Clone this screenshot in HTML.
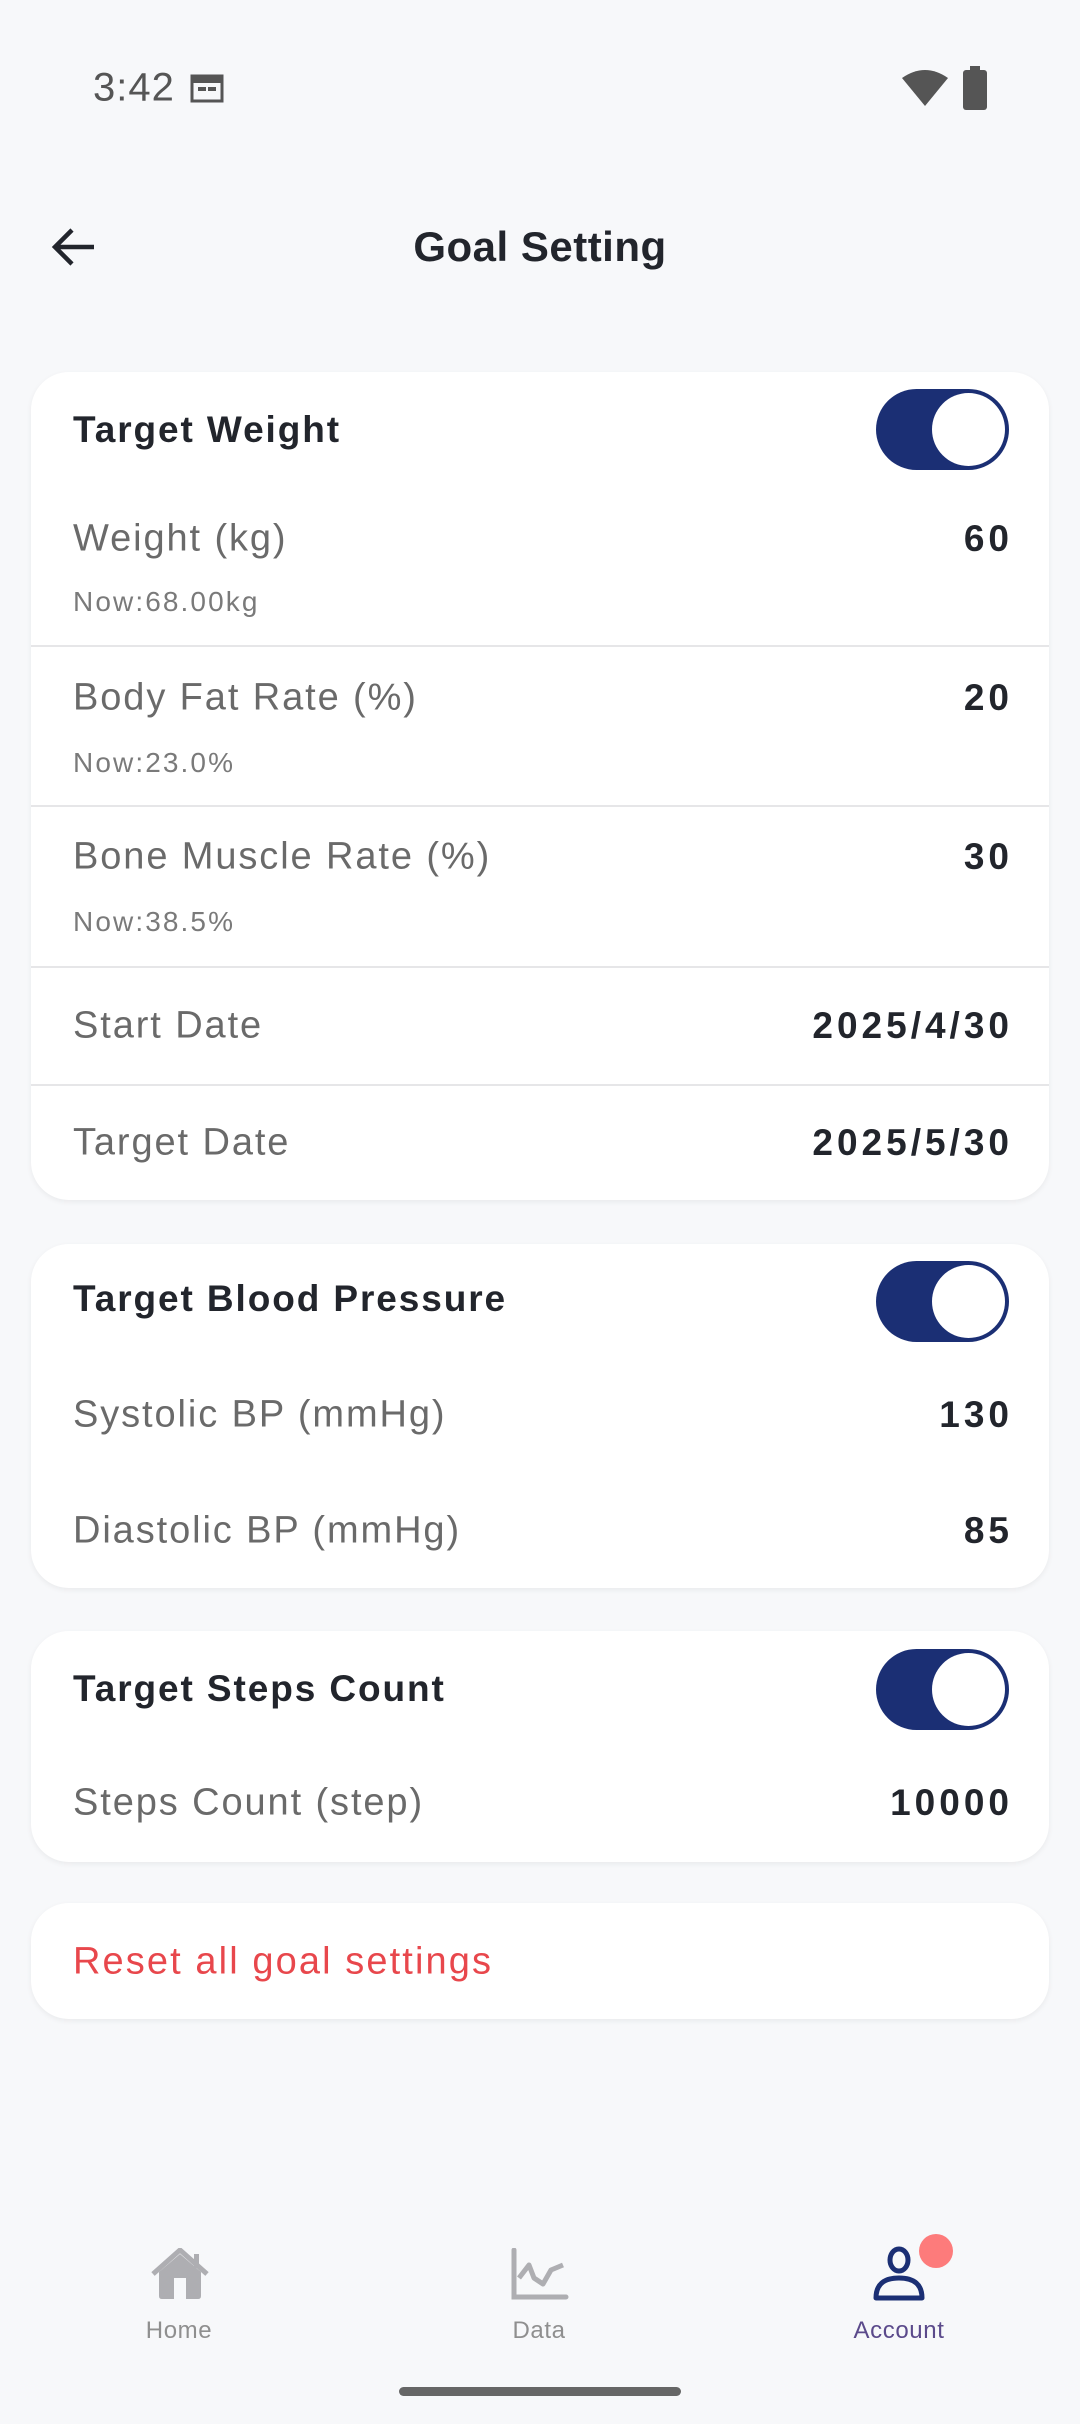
<!DOCTYPE html>
<html><head><meta charset="utf-8"><style>
*{margin:0;padding:0;box-sizing:border-box}
body{width:1080px;height:2424px;background:#f7f8fa;font-family:"Liberation Sans",sans-serif;position:relative;overflow:hidden}
.a{position:absolute}
.card{position:absolute;left:31px;width:1018px;background:#fff;border-radius:38px;box-shadow:0 2px 6px rgba(0,0,0,0.06)}
.t{position:absolute;left:73px;transform:translateY(-50%);white-space:nowrap}
.h{font-weight:bold;font-size:37px;color:#22252c;letter-spacing:1.9px}
.l{font-size:38px;color:#6a6a6a;letter-spacing:1.9px}
.n{font-size:28px;color:#7a7a7a;letter-spacing:2.1px}
.v{position:absolute;right:71px;transform:translateY(-50%);font-weight:bold;font-size:37px;color:#22252c;letter-spacing:4px;margin-right:-4px}
.div{position:absolute;left:31px;width:1018px;height:2px;background:#e6e6e8}
.tg{position:absolute;left:876px;width:133px;height:81px;border-radius:41px;background:#1b2f74}
.tg::after{content:"";position:absolute;right:4px;top:4px;width:73px;height:73px;border-radius:50%;background:#fff}
.nl{position:absolute;transform:translate(-50%,-50%);font-size:24px;color:#8f8f8f;letter-spacing:0.6px}
</style></head><body>
<div class="t" style="left:93px;top:88px;font-size:40px;color:#555;letter-spacing:1px">3:42</div>
<svg class="a" style="left:190px;top:73px" width="34" height="30" viewBox="0 0 34 30"><rect x="2" y="3" width="30" height="25" fill="none" stroke="#555" stroke-width="3"/><rect x="2" y="3" width="30" height="7" fill="#555"/><rect x="8" y="14" width="8" height="4" fill="#555"/><rect x="18" y="14" width="8" height="4" fill="#555"/></svg>
<svg class="a" style="left:902px;top:70px" width="46" height="38" viewBox="0 0 46 38"><path d="M0 8 Q23 -8 46 8 L23 36 Z" fill="#555"/></svg>
<svg class="a" style="left:963px;top:66px" width="24" height="44" viewBox="0 0 24 44"><rect x="7" y="0" width="10" height="5" fill="#555"/><rect x="0" y="4" width="24" height="40" rx="3" fill="#555"/></svg>
<svg class="a" style="left:50px;top:225px" width="48" height="44" viewBox="0 0 48 44"><path d="M44 22 H6 M22 5 L5 22 L22 39" fill="none" stroke="#22252c" stroke-width="4.5"/></svg>
<div class="a" style="left:0;width:1080px;top:247px;transform:translateY(-50%);text-align:center;font-weight:bold;font-size:42px;color:#22252c;letter-spacing:0.5px">Goal Setting</div>

<div class="card" style="top:372px;height:828px"></div>
<div class="t h" style="top:430px">Target Weight</div>
<div class="tg" style="top:389px"></div>
<div class="t l" style="top:539px">Weight (kg)</div><div class="v" style="top:539px">60</div>
<div class="t n" style="top:602px">Now:68.00kg</div>
<div class="div" style="top:645px"></div>
<div class="t l" style="top:698px">Body Fat Rate (%)</div><div class="v" style="top:698px">20</div>
<div class="t n" style="top:763px">Now:23.0%</div>
<div class="div" style="top:805px"></div>
<div class="t l" style="top:857px">Bone Muscle Rate (%)</div><div class="v" style="top:857px">30</div>
<div class="t n" style="top:922px">Now:38.5%</div>
<div class="div" style="top:966px"></div>
<div class="t l" style="top:1026px">Start Date</div><div class="v" style="top:1026px">2025/4/30</div>
<div class="div" style="top:1084px"></div>
<div class="t l" style="top:1143px">Target Date</div><div class="v" style="top:1143px">2025/5/30</div>

<div class="card" style="top:1244px;height:344px"></div>
<div class="t h" style="top:1299px">Target Blood Pressure</div>
<div class="tg" style="top:1261px"></div>
<div class="t l" style="top:1415px">Systolic BP (mmHg)</div><div class="v" style="top:1415px">130</div>
<div class="t l" style="top:1531px">Diastolic BP (mmHg)</div><div class="v" style="top:1531px">85</div>

<div class="card" style="top:1631px;height:231px"></div>
<div class="t h" style="top:1689px">Target Steps Count</div>
<div class="tg" style="top:1649px"></div>
<div class="t l" style="top:1803px">Steps Count (step)</div><div class="v" style="top:1803px">10000</div>

<div class="card" style="top:1903px;height:116px"></div>
<div class="t" style="top:1962px;font-size:38px;color:#e8474c;letter-spacing:2.1px">Reset all goal settings</div>

<svg class="a" style="left:151px;top:2248px" width="58" height="52" viewBox="0 0 58 52"><path d="M2 26 L29 2 L56 26" fill="none" stroke="#aeaeb2" stroke-width="5"/><path d="M8 24 L29 6 L50 24 V48 Q50 51 47 51 H11 Q8 51 8 48 Z" fill="#aeaeb2"/><rect x="23" y="30" width="12" height="21" fill="#f7f8fa"/><rect x="43" y="6" width="5" height="14" fill="#aeaeb2"/></svg>
<svg class="a" style="left:511px;top:2248px" width="58" height="52" viewBox="0 0 58 52"><path d="M3 2 V49 H55" fill="none" stroke="#aeaeb2" stroke-width="5" stroke-linecap="round"/><path d="M8 30 L18 17 L23 30 L32 36 L40 22 L52 17" fill="none" stroke="#aeaeb2" stroke-width="5" stroke-linejoin="round"/></svg>
<svg class="a" style="left:872px;top:2246px" width="54" height="56" viewBox="0 0 54 56"><ellipse cx="27" cy="14" rx="9" ry="11" fill="none" stroke="#1b2f74" stroke-width="5"/><path d="M4 52 Q4 32 27 32 Q50 32 50 52 Z" fill="none" stroke="#1b2f74" stroke-width="5" stroke-linejoin="round"/></svg>
<div class="a" style="left:919px;top:2234px;width:34px;height:34px;border-radius:50%;background:#fd7b7b"></div>
<div class="nl" style="left:179px;top:2331px">Home</div>
<div class="nl" style="left:539px;top:2331px">Data</div>
<div class="nl" style="left:899px;top:2331px;color:#5b4a8b">Account</div>
<div class="a" style="left:399px;top:2387px;width:282px;height:9px;border-radius:5px;background:#666"></div>
</body></html>
